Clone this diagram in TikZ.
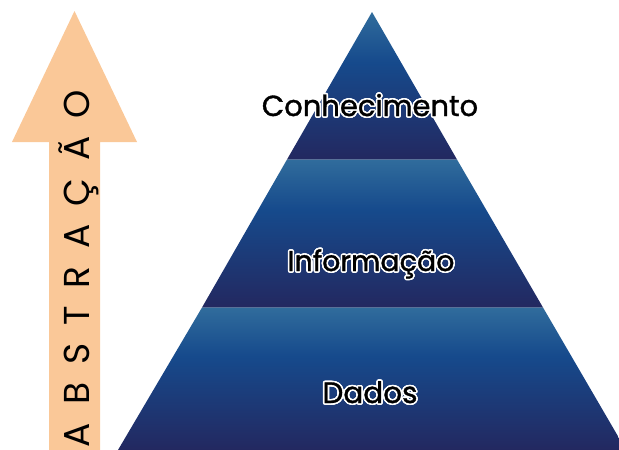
\documentclass[tikz,border=0pt]{standalone}
\usepackage{fontspec}
\setmainfont{Poppins}
\usepackage{contour}
\contourlength{1.6pt}
\contournumber{16}
\definecolor{peach}{RGB}{250,200,152}
\definecolor{lightb}{RGB}{48,108,156}
\definecolor{midb}{RGB}{22,74,140}
\definecolor{darkb}{RGB}{35,40,96}
\pgfdeclareverticalshading{layershade}{100bp}{color(0bp)=(darkb); color(25bp)=(darkb); color(58bp)=(midb); color(75bp)=(lightb); color(100bp)=(lightb)}
\tikzset{
  layer/.style={shading=layershade, draw=none},
  lbl/.style={anchor=base, inner sep=0pt, text=black},
  arrowtext/.style={anchor=base, inner sep=0pt, rotate=90, text=black}
}
\begin{document}
\begin{tikzpicture}[x=1pt,y=-1pt]
\useasboundingbox (0,0) rectangle (619,450);
\begin{scope}
\clip (0,0) rectangle (619,450);
% pyramid layers
\coordinate (apex) at (372,12);
\shade[layer] (apex) -- (457,159.5) -- (287,159.5) -- cycle;
\shade[layer] (287,159.5) -- (457,159.5) -- (543,307.5) -- (202,307.5) -- cycle;
\shade[layer] (202,307.5) -- (543,307.5) -- (626,450) -- (118,450) -- cycle;
% arrow
\fill[peach] (49,450) -- (49,142) -- (12,142) -- (74.5,11) -- (137,142) -- (100,142) -- (100,450) -- cycle;
\end{scope}
\node[lbl, font=\fontsize{29}{33}\selectfont\addfontfeature{FakeBold=1.2}] (conh) at (370,116) {\contour{white}{Conhecimento}};
\node[lbl, font=\fontsize{28.5}{33}\selectfont\addfontfeature{FakeBold=1.2}] (info) at (371,271) {\contour{white}{Informação}};
\node[lbl, font=\fontsize{29.5}{34}\selectfont\addfontfeature{FakeBold=1.2}] (dados) at (370,403) {\contour{white}{Dados}};
\node[arrowtext, font=\fontsize{36}{40}\selectfont\addfontfeature{LetterSpace=50}] (abs) at (89,268.5) {ABSTRAÇÃO};
\end{tikzpicture}
\end{document}
